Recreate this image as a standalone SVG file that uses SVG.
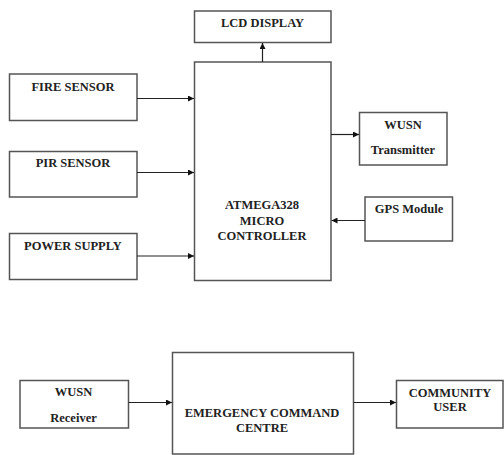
<svg xmlns="http://www.w3.org/2000/svg" width="504" height="455" viewBox="0 0 504 455">
<defs>
<marker id="ah" viewBox="0 0 10 10" refX="10" refY="5" markerWidth="6" markerHeight="6" markerUnits="userSpaceOnUse" orient="auto">
<path d="M0,0 L10,5 L0,10 z" fill="#111"/>
</marker>
<style>
.box{fill:#fff;stroke:#555;stroke-width:1.5}
text{font-family:'Liberation Serif','Times New Roman',serif;font-weight:bold;font-size:12.5px;fill:#222;text-anchor:middle}
.c{stroke:#222;stroke-width:1.2;fill:none;marker-end:url(#ah)}
</style>
</defs>
<rect width="504" height="455" fill="#fff"/>
<g id="lcd"><rect class="box" x="194.5" y="11" width="136.5" height="31.5"/><text x="262.5" y="27">LCD DISPLAY</text></g>
<g id="mcu"><rect class="box" x="194.5" y="62" width="136.5" height="218.5"/><text x="262" y="209">ATMEGA328</text><text x="262" y="224.5">MICRO</text><text x="262" y="239.5">CONTROLLER</text></g>
<g id="fire"><rect class="box" x="9.5" y="74" width="127.5" height="46.5"/><text x="73" y="91">FIRE SENSOR</text></g>
<g id="pir"><rect class="box" x="9.5" y="151.5" width="127.5" height="45.5"/><text x="73" y="167">PIR SENSOR</text></g>
<g id="power"><rect class="box" x="9.5" y="233.5" width="127.5" height="46"/><text x="73" y="249.5">POWER SUPPLY</text></g>
<g id="wusnt"><rect class="box" x="359.5" y="112.5" width="87.5" height="52.5"/><text x="403" y="129">WUSN</text><text x="403" y="154">Transmitter</text></g>
<g id="gps"><rect class="box" x="365" y="197" width="87.5" height="44"/><text x="409" y="213">GPS Module</text></g>
<g id="wusnr"><rect class="box" x="20" y="380.5" width="108.5" height="47.5"/><text x="73.5" y="396">WUSN</text><text x="73.5" y="422">Receiver</text></g>
<g id="ecc"><rect class="box" x="172.5" y="352.5" width="181" height="101.5"/><text x="262" y="417">EMERGENCY COMMAND</text><text x="262" y="432">CENTRE</text></g>
<g id="user"><rect class="box" x="396.5" y="380.5" width="106.5" height="47.5"/><text x="450" y="397">COMMUNITY</text><text x="450" y="411">USER</text></g>
<g id="connectors">
<path class="c" d="M262.5,62 L262.5,43"/>
<path class="c" d="M137,98.5 L194,98.5"/>
<path class="c" d="M137,172.5 L194,172.5"/>
<path class="c" d="M137,256 L194,256"/>
<path class="c" d="M331,134.5 L359,134.5"/>
<path class="c" d="M365,220.5 L331.5,220.5"/>
<path class="c" d="M128.5,402.5 L172,402.5"/>
<path class="c" d="M353.5,402.5 L396,402.5"/>
</g>
</svg>
